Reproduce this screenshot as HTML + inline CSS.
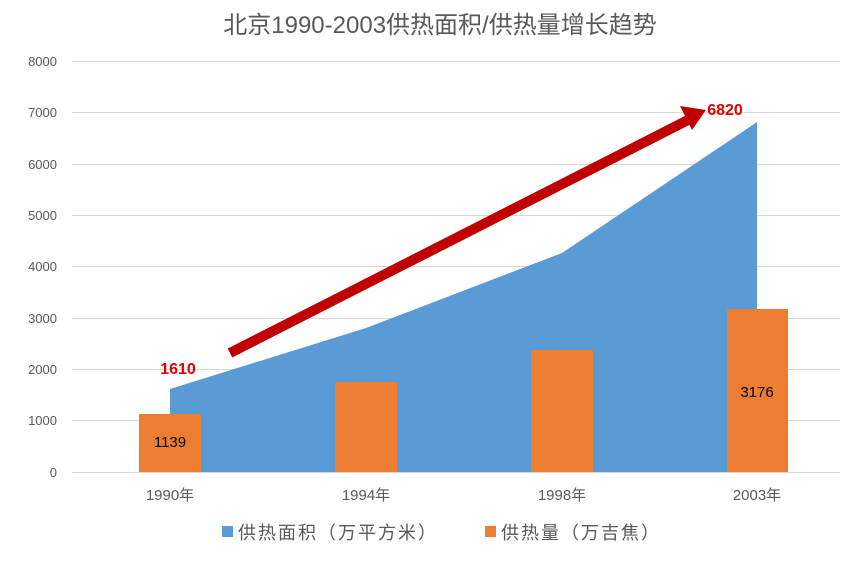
<!DOCTYPE html>
<html><head><meta charset="utf-8"><style>
body{margin:0;background:#fff;}
svg text{font-family:"Liberation Sans","Noto Sans CJK SC",sans-serif;}
</style></head><body>
<svg width="846" height="560" viewBox="0 0 846 560" xmlns="http://www.w3.org/2000/svg">
<rect width="846" height="560" fill="#fff"/>
<text x="440" y="33" text-anchor="middle" font-size="24" fill="#595959">北京1990-2003供热面积/供热量增长趋势</text>
<g stroke="#d9d9d9" stroke-width="1">
<line x1="72" y1="61.5" x2="840" y2="61.5"/>
<line x1="72" y1="112.5" x2="840" y2="112.5"/>
<line x1="72" y1="164.5" x2="840" y2="164.5"/>
<line x1="72" y1="215.5" x2="840" y2="215.5"/>
<line x1="72" y1="266.5" x2="840" y2="266.5"/>
<line x1="72" y1="318.5" x2="840" y2="318.5"/>
<line x1="72" y1="369.5" x2="840" y2="369.5"/>
<line x1="72" y1="420.5" x2="840" y2="420.5"/>
<line x1="72" y1="472.5" x2="840" y2="472.5"/>
</g>
<g font-size="13" fill="#595959" text-anchor="end">
<text x="57" y="66">8000</text><text x="57" y="117">7000</text><text x="57" y="169">6000</text>
<text x="57" y="220">5000</text><text x="57" y="271">4000</text><text x="57" y="323">3000</text>
<text x="57" y="374">2000</text><text x="57" y="425">1000</text><text x="57" y="477">0</text>
</g>
<polygon points="170,389 366,328 562,253 757,122 757,472 170,472" fill="#5b9bd5"/>
<g fill="#ed7d31">
<rect x="139" y="414" width="62" height="58"/>
<rect x="335" y="382" width="62" height="90"/>
<rect x="531" y="350" width="62" height="122"/>
<rect x="727" y="309" width="61" height="163"/>
</g>
<text x="170" y="447" text-anchor="middle" font-size="15" fill="#000">1139</text>
<text x="757" y="397" text-anchor="middle" font-size="15" fill="#000">3176</text>
<text x="178" y="374" text-anchor="middle" font-size="16" font-weight="bold" fill="#e00000">1610</text>
<text x="725" y="115" text-anchor="middle" font-size="16" font-weight="bold" fill="#e00000">6820</text>
<line x1="230" y1="353" x2="688" y2="120" stroke="#c00000" stroke-width="10"/>
<polygon points="706,110 680,106 692,130" fill="#c00000"/>
<g font-size="15" fill="#595959" text-anchor="middle">
<text x="170" y="500">1990年</text><text x="366" y="500">1994年</text>
<text x="562" y="500">1998年</text><text x="757" y="500">2003年</text>
</g>
<rect x="222" y="526" width="11" height="11" fill="#5b9bd5"/>
<text x="238" y="539" font-size="18" letter-spacing="2" fill="#595959">供热面积（万平方米）</text>
<rect x="485" y="526" width="11" height="11" fill="#ed7d31"/>
<text x="501" y="539" font-size="18" letter-spacing="2" fill="#595959">供热量（万吉焦）</text>
</svg>
</body></html>
